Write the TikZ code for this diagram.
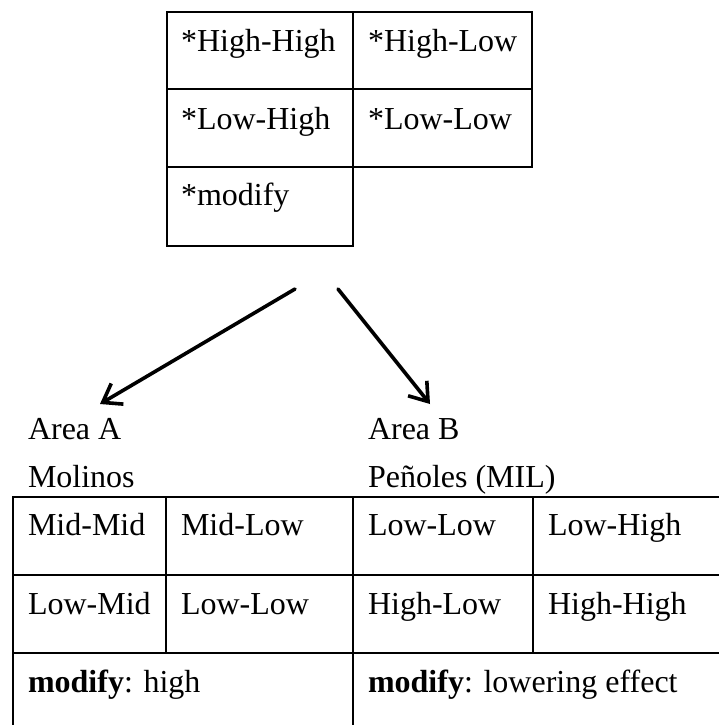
\documentclass[tikz,border=0pt]{standalone}
\usepackage{fontspec}
\setmainfont{Liberation Serif}
\usetikzlibrary{arrows.meta}
\begin{document}
\begin{tikzpicture}[x=1pt,y=-1pt,
  cell/.style={draw=black,line width=2.8pt,inner sep=0pt,outer sep=0pt},
  txt/.style={anchor=base west,inner sep=0pt,outer sep=0pt,font=\fontsize{32}{38}\selectfont},
  conn/.style={line width=3.6pt,line cap=round,-{Straight Barb[length=17pt,width=24pt,line width=3.6pt]}}]
\useasboundingbox (0,0) rectangle (719,725);
\clip (0,0) rectangle (719,725);
% top table
\draw[cell] (167,12) rectangle (353,89) node[midway] (t11) {};
\draw[cell] (353,12) rectangle (532,89) node[midway] (t12) {};
\draw[cell] (167,89) rectangle (353,167) node[midway] (t21) {};
\draw[cell] (353,89) rectangle (532,167) node[midway] (t22) {};
\draw[cell] (167,167) rectangle (353,246) node[midway] (t31) {};
\node[txt] (hh) at (181,52) {*High-High};
\node[txt] (hl) at (368,52) {*High-Low};
\node[txt] (lh) at (181,129) {*Low-High};
\node[txt] (ll) at (368,129) {*Low-Low};
\node[txt] (mo) at (181,205) {*modify};
% arrows
\coordinate (sa) at (295,289);
\coordinate (ea) at (100,404);
\coordinate (sb) at (338,289);
\coordinate (eb) at (430,404);
\draw[conn] (sa) -- (ea);
\draw[conn] (sb) -- (eb);
% labels
\node[txt] (areaA) at (28,439) {Area A};
\node[txt] (mol) at (28,487) {Molinos};
\node[txt] (areaB) at (368,439) {Area B};
\node[txt] (pen) at (368,487) {Peñoles (MIL)};
% bottom table
\draw[cell] (13,497) rectangle (166,575) node[midway] (b11) {};
\draw[cell] (166,497) rectangle (353,575) node[midway] (b12) {};
\draw[cell] (353,497) rectangle (533,575) node[midway] (b13) {};
\draw[cell] (533,497) rectangle (725,575) node[midway] (b14) {};
\draw[cell] (13,575) rectangle (166,653) node[midway] (b21) {};
\draw[cell] (166,575) rectangle (353,653) node[midway] (b22) {};
\draw[cell] (353,575) rectangle (533,653) node[midway] (b23) {};
\draw[cell] (533,575) rectangle (725,653) node[midway] (b24) {};
\draw[cell] (13,653) rectangle (353,735) node[midway] (b31) {};
\draw[cell] (353,653) rectangle (725,735) node[midway] (b32) {};
\node[txt] (mm) at (28,535) {Mid-Mid};
\node[txt] (ml) at (181,535) {Mid-Low};
\node[txt] (bll) at (368,535) {Low-Low};
\node[txt] (blh) at (548,535) {Low-High};
\node[txt] (lm) at (28,614) {Low-Mid};
\node[txt] (ll2) at (181,614) {Low-Low};
\node[txt] (bhl) at (368,614) {High-Low};
\node[txt] (bhh) at (548,614) {High-High};
\node[txt] (modA) at (28,692) {\textbf{modify}: high};
\node[txt] (modB) at (368,692) {\textbf{modify}: lowering effect};
\end{tikzpicture}
\end{document}
